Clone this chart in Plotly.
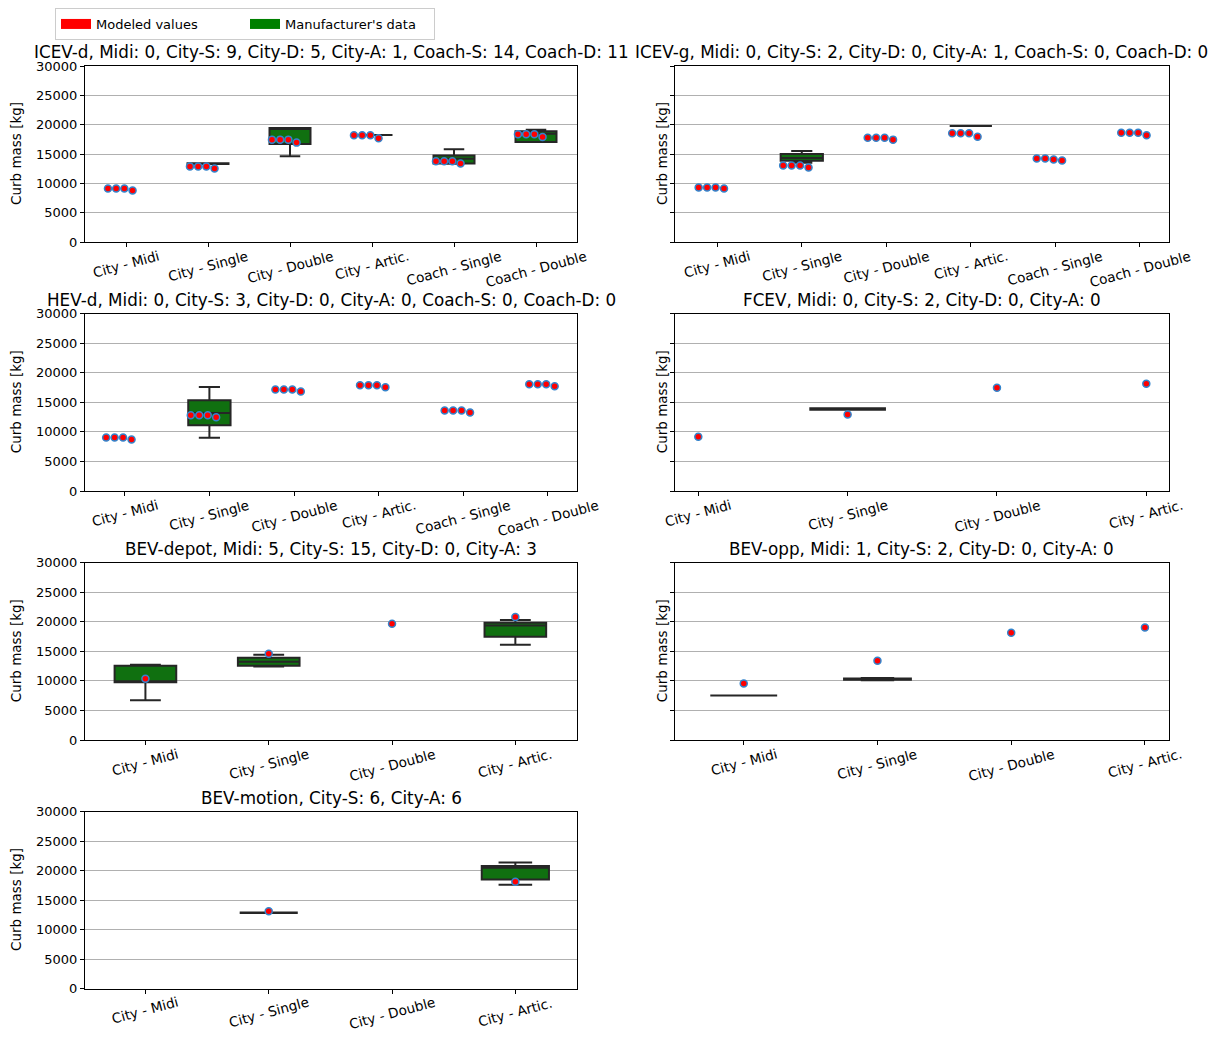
import plotly.graph_objects as go

# ---------------- data ----------------
CATS6 = ["City - Midi", "City - Single", "City - Double", "City - Artic.",
         "Coach - Single", "Coach - Double"]
CATS4 = CATS6[:4]

TITLES = [
    "ICEV-d, Midi: 0, City-S: 9, City-D: 5, City-A: 1, Coach-S: 14, Coach-D: 11",
    "ICEV-g, Midi: 0, City-S: 2, City-D: 0, City-A: 1, Coach-S: 0, Coach-D: 0",
    "HEV-d, Midi: 0, City-S: 3, City-D: 0, City-A: 0, Coach-S: 0, Coach-D: 0",
    "FCEV, Midi: 0, City-S: 2, City-D: 0, City-A: 0",
    "BEV-depot, Midi: 5, City-S: 15, City-D: 0, City-A: 3",
    "BEV-opp, Midi: 1, City-S: 2, City-D: 0, City-A: 0",
    "BEV-motion, City-S: 6, City-A: 6",
]

# Modeled curb mass [kg] (several model years per category)
ICEVD_MODEL = [[9100, 9100, 9100, 8780], [12860, 12860, 12860, 12520],
               [17450, 17450, 17450, 16940], [18180, 18180, 18180, 17670],
               [13760, 13760, 13760, 13370], [18350, 18350, 18350, 17890]]
ICEVG_MODEL = [[9280, 9280, 9280, 9120], [13030, 13030, 13030, 12690],
               [17780, 17780, 17780, 17450], [18520, 18520, 18520, 17950],
               [14220, 14220, 14050, 13880], [18640, 18640, 18640, 18180]]
HEVD_MODEL = [[9050, 9050, 9050, 8710], [12810, 12810, 12810, 12470],
              [17140, 17140, 17140, 16800], [17860, 17860, 17860, 17530],
              [13600, 13600, 13600, 13260], [18030, 18030, 18030, 17700]]
FCEV_MODEL = [[9150], [12920], [17470], [18140]]
BEVDEPOT_MODEL = [[10340], [14580], [19660], [20780]]
BEVOPP_MODEL = [[9540], [13390], [18140], [19030]]
BEVMOTION_MODEL = [[], [13080], [], [18080]]

# Manufacturer's data, box statistics: [lower whisker, q1, median, q3, upper whisker]
ICEVD_BOX = [None, [13300, 13300, 13370, 13420, 13420], [14600, 16700, 19250, 19450, 19450],
             [18230, 18230, 18230, 18230, 18230], [13350, 13370, 14200, 14730, 15800],
             [17040, 17040, 18470, 18860, 19150]]
ICEVG_BOX = [None, [13500, 13850, 14300, 15000, 15500], None,
             [19760, 19760, 19760, 19760, 19760], None, None]
HEVD_BOX = [None, [8980, 11120, 13200, 15335, 17580], None, None, None, None]
FCEV_BOX = [None, [13750, 13750, 13870, 14000, 14000], None, None]
BEVDEPOT_BOX = [[6710, 9760, 9850, 12540, 12710], [12430, 12540, 13220, 13900, 14410],
                None, [16100, 17460, 19370, 19830, 20270]]
BEVOPP_BOX = [[7510, 7510, 7510, 7510, 7510], [10100, 10200, 10300, 10400, 10500], None, None]
BEVMOTION_BOX = [None, [12780, 12800, 12840, 12880, 12900], None,
                 [17600, 18470, 20450, 20750, 21360]]

Y_TICKS = [0, 5000, 10000, 15000, 20000, 25000, 30000]
Y_TICK_LABELS = ["0", "5000", "10000", "15000", "20000", "25000", "30000"]
LEGEND_NAMES = ["Modeled values", "Manufacturer's data"]

# ---------------- styling / layout ----------------
W, H = 1217, 1045
COL_X = [(85, 577), (675, 1169)]
ROW_Y = [(66, 242), (313.5, 491), (562.5, 740), (811.5, 988.5)]
DOT_OFFSETS_6 = [-0.22, -0.12, -0.02, 0.08]
BOX_FILL = "#107010"
BOX_LINE = "#262626"
DOT_EDGE = "#3384cc"
FONT = "DejaVu Sans"

# (title, categories, model, boxes, box widths, x range, row, col)
PANELS = [
    (TITLES[0], CATS6, ICEVD_MODEL, ICEVD_BOX, [0.5] * 6, [-0.5, 5.5], 0, 0),
    (TITLES[1], CATS6, ICEVG_MODEL, ICEVG_BOX, [0.5] * 6, [-0.5, 5.345], 0, 1),
    (TITLES[2], CATS6, HEVD_MODEL, HEVD_BOX, [0.5] * 6, [-0.47, 5.344], 1, 0),
    (TITLES[3], CATS4, FCEV_MODEL, FCEV_BOX, [0.5] * 4, [-0.156, 3.152], 1, 1),
    (TITLES[4], CATS4, BEVDEPOT_MODEL, BEVDEPOT_BOX, [0.5] * 4, [-0.49, 3.5], 2, 0),
    (TITLES[5], CATS4, BEVOPP_MODEL, BEVOPP_BOX, [0.5] * 4, [-0.514, 3.18], 2, 1),
    (TITLES[6], CATS4, BEVMOTION_MODEL, BEVMOTION_BOX, [0.5, 0.455, 0.5, 0.545],
     [-0.49, 3.5], 3, 0),
]

fig = go.Figure()
layout = dict(
    template="none",
    width=W, height=H, margin=dict(l=0, r=0, t=0, b=0, autoexpand=False),
    paper_bgcolor="white", plot_bgcolor="white",
    font=dict(family=FONT, size=13, color="black"),
    boxmode="overlay", showlegend=True,
    legend=dict(orientation="h", x=55 / W, y=1 - 8 / H, xanchor="left", yanchor="top",
                bordercolor="#cccccc", borderwidth=1, bgcolor="white",
                entrywidth=144, entrywidthmode="pixels",
                font=dict(family=FONT, size=13, color="black")),
)
annotations = []

for k, (title, cats, model, box, widths, xr, row, col) in enumerate(PANELS):
    idx = "" if k == 0 else str(k + 1)
    xa, ya = "x" + idx, "y" + idx
    x0, x1 = COL_X[col]
    y0, y1 = ROW_Y[row]
    n = len(cats)
    layout["xaxis" + idx] = dict(
        domain=[x0 / W, x1 / W], anchor=ya, range=xr,
        tickmode="array", tickvals=list(range(n)), showticklabels=False,
        showline=True, mirror=True, linecolor="black", linewidth=1,
        ticks="outside", ticklen=4, tickcolor="black", tickwidth=1,
        showgrid=False, zeroline=False, automargin=False, fixedrange=True)
    layout["yaxis" + idx] = dict(
        domain=[1 - y1 / H, 1 - y0 / H], anchor=xa, range=[0, 30000],
        tickmode="array", tickvals=Y_TICKS, ticktext=Y_TICK_LABELS,
        showticklabels=(col == 0),
        showline=True, mirror=True, linecolor="black", linewidth=1,
        ticks="outside", ticklen=4, tickcolor="black", tickwidth=1,
        showgrid=True, gridcolor="#b0b0b0", gridwidth=1, zeroline=False,
        automargin=False,
        tickfont=dict(family=FONT, size=13, color="black"), fixedrange=True)

    # manufacturer boxes
    for i, st in enumerate(box):
        if st is None:
            continue
        fig.add_trace(go.Box(
            x=[i], lowerfence=[st[0]], q1=[st[1]], median=[st[2]], q3=[st[3]],
            upperfence=[st[4]], width=widths[i], whiskerwidth=0.5,
            fillcolor=BOX_FILL, line=dict(color=BOX_LINE, width=2),
            boxpoints=False, showlegend=False, hoverinfo="skip",
            xaxis=xa, yaxis=ya))

    # modeled dots
    xs, ys = [], []
    for i, vals in enumerate(model):
        offs = DOT_OFFSETS_6 if len(vals) == 4 else [0.0] * len(vals)
        for off, v in zip(offs, vals):
            xs.append(i + off)
            ys.append(v)
    fig.add_trace(go.Scatter(
        x=xs, y=ys, mode="markers",
        marker=dict(size=7, color="red", line=dict(color=DOT_EDGE, width=1.5)),
        showlegend=False, hoverinfo="skip", xaxis=xa, yaxis=ya))

    # rotated category labels (centered under ticks)
    for i, c in enumerate(cats):
        annotations.append(dict(
            text=c, xref=xa, yref=ya + " domain", x=i, y=0,
            xanchor="center", yanchor="top", yshift=-3, textangle=-15,
            showarrow=False, font=dict(family=FONT, size=13.6, color="black")))

    # title
    annotations.append(dict(
        text=title, xref="paper", yref="paper", x=(x0 + x1) / 2 / W, y=1 - y0 / H,
        xanchor="center", yanchor="bottom", yshift=2, showarrow=False,
        font=dict(family=FONT, size=16.8, color="black")))
    # y label
    lx = 16 if col == 0 else 662
    annotations.append(dict(
        text="Curb mass [kg]", xref="paper", yref="paper", x=lx / W,
        y=1 - (y0 + y1) / 2 / H, xanchor="center", yanchor="middle",
        textangle=-90, showarrow=False,
        font=dict(family=FONT, size=13.5, color="black")))

# legend entries
for name, color in zip(LEGEND_NAMES, ["red", "#008000"]):
    fig.add_trace(go.Scatter(x=[None], y=[None], mode="lines", name=name,
                             line=dict(color=color, width=12), xaxis="x", yaxis="y"))

layout["annotations"] = annotations
fig.update_layout(**layout)
fig.write_html("out.html")
